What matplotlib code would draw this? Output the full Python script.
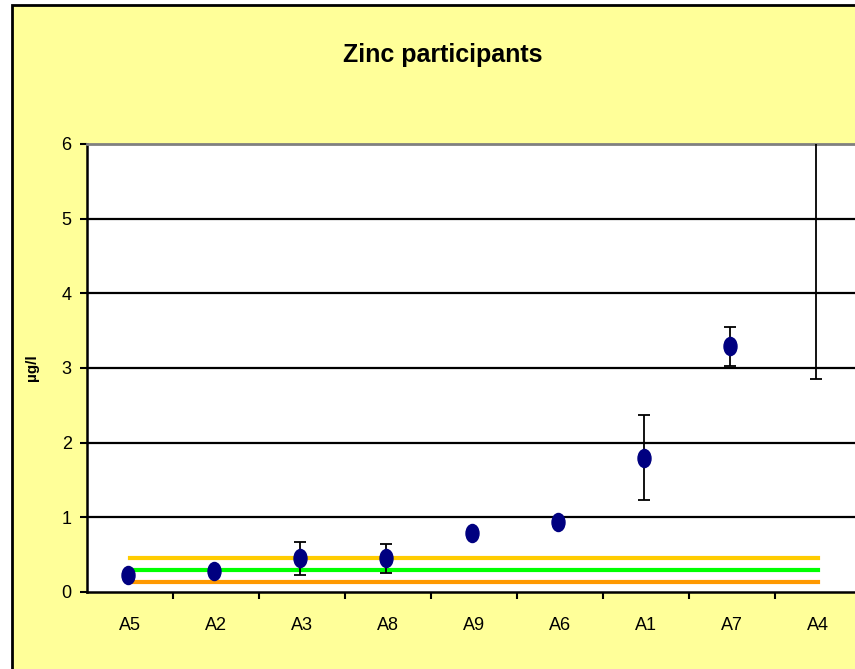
import matplotlib
matplotlib.use("Agg")
import matplotlib.pyplot as plt
from matplotlib.patches import Rectangle
from matplotlib.path import Path
import numpy as np

plt.rcParams['font.family'] = ['Liberation Sans', 'DejaVu Sans']

labs = ["A5", "A2", "A3", "A8", "A9", "A6", "A1", "A7", "A4"]
vals = [0.23, 0.285, 0.45, 0.45, 0.795, 0.94, 1.80, 3.29, 7.0]
errs = [0.02, 0.03, 0.22, 0.19, 0.02, 0.06, 0.57, 0.26, 4.15]

# reference lines (upper limit, assigned value, lower limit)
ref_hi = 0.455
ref_mid = 0.30
ref_lo = 0.13

fig = plt.figure(figsize=(8.55, 6.69), dpi=100)
fig.patch.set_facecolor("white")
fig.patches.append(Rectangle((12/855, -0.02), 1.05, 1.02 - 5/669,
                             transform=fig.transFigure, facecolor="#FFFF99",
                             edgecolor="black", linewidth=2, zorder=-5))

ax = fig.add_axes([87/855, 1 - 592/669, 774/855, 448/669])
ax.set_facecolor("white")

x = np.arange(len(labs))

ax.plot([x[0], x[-1]], [ref_hi, ref_hi], color="#FFCC00", lw=3, zorder=2)
ax.plot([x[0], x[-1]], [ref_mid, ref_mid], color="#00FF00", lw=3, zorder=2)
ax.plot([x[0], x[-1]], [ref_lo, ref_lo], color="#FF9900", lw=3, zorder=2)

for v in [1, 2, 3, 4, 5]:
    ax.axhline(v, color="black", lw=1.6, zorder=1)

# tall ellipse marker
circ = Path.unit_circle()
ell = Path(circ.vertices * np.array([0.72, 1.0]), circ.codes)

eb = ax.errorbar(x - 0.025, vals, yerr=errs, fmt="none", ecolor="black",
                 elinewidth=1.3, capsize=4, capthick=1.3, zorder=3)
ax.plot(x - 0.025, vals, linestyle="none", marker=ell, markersize=13,
        color="#000080", zorder=4)

ax.set_xlim(-0.5, 8.5)
ax.set_ylim(0, 6)
ax.set_yticks(range(7))
ax.set_xticks(x)
ax.set_xticklabels(labs)
ax.set_xticks(np.arange(0.5, 8.5, 1), minor=True)
ax.tick_params(axis="x", which="major", length=0, pad=18, labelsize=13)
ax.tick_params(axis="x", which="minor", length=5, width=1.5, direction="out")
ax.tick_params(axis="y", length=5, width=1.5, direction="out", pad=6, labelsize=13)

for s in ["left", "bottom"]:
    ax.spines[s].set_color("black")
    ax.spines[s].set_linewidth(1.8)
ax.spines["top"].set_color("#808080")
ax.spines["top"].set_linewidth(2)
ax.spines["right"].set_visible(False)

ax.set_ylabel("µg/l", fontsize=11, fontweight="bold", labelpad=16)
fig.text(443/855, 1 - 55/669, "Zinc participants", ha="center", va="center",
         fontsize=18, fontweight="bold")

fig.savefig("out.png", dpi=100, facecolor=fig.get_facecolor())
